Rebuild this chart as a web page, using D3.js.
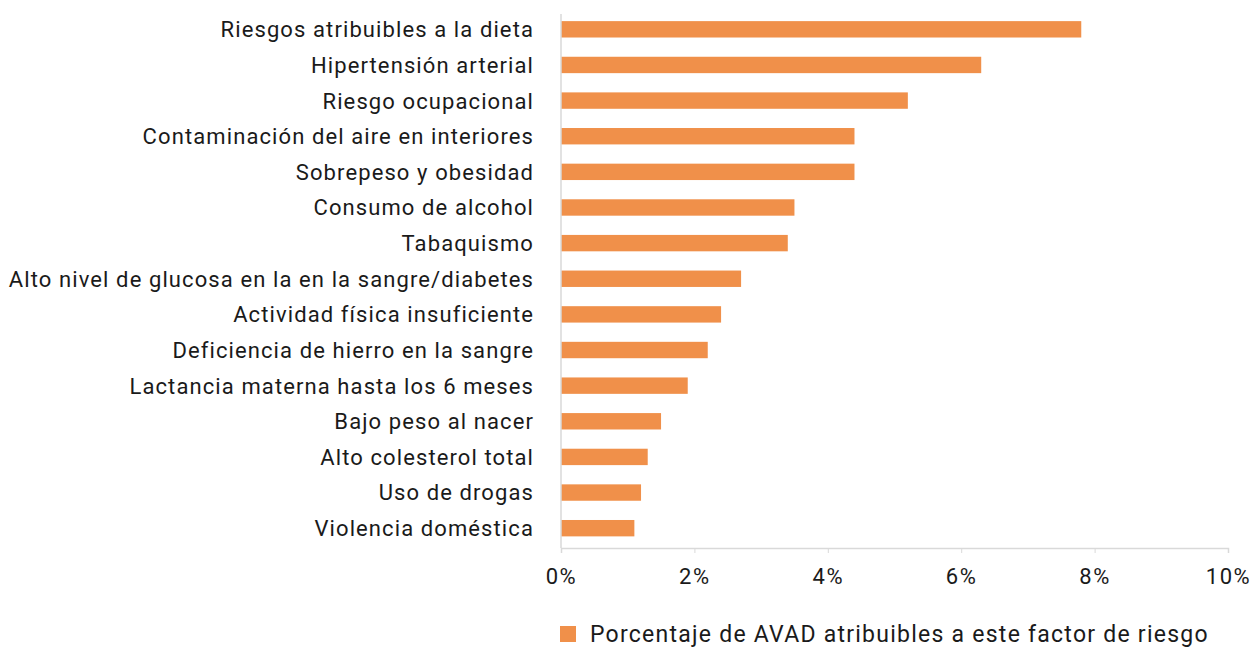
<!DOCTYPE html>
<html><head><meta charset="utf-8">
<script src="https://cdn.jsdelivr.net/npm/d3@7"></script>
<style>body{margin:0;background:#fff}svg{display:block}text{font-family:Roboto,sans-serif;fill:#1a1a1a}</style>
</head><body><svg id="c" width="1255" height="648"></svg>
<script>
const categories = ["Riesgos atribuibles a la dieta","Hipertensión arterial","Riesgo ocupacional","Contaminación del aire en interiores","Sobrepeso y obesidad","Consumo de alcohol","Tabaquismo","Alto nivel de glucosa en la en la sangre/diabetes","Actividad física insuficiente","Deficiencia de hierro en la sangre","Lactancia materna hasta los 6 meses","Bajo peso al nacer","Alto colesterol total","Uso de drogas","Violencia doméstica"];
const values = [7.8,6.3,5.2,4.4,4.4,3.5,3.4,2.7,2.4,2.2,1.9,1.5,1.3,1.2,1.1];
const xTicks = [0,2,4,6,8,10];
const seriesName = "Porcentaje de AVAD atribuibles a este factor de riesgo";

const svg = d3.select("#c");
const color = "#F0904A";
const x = d3.scaleLinear().domain([0,10]).range([561,1228]);
const y = d3.scaleBand().domain(categories).range([11.5,546]).paddingInner(0.54).paddingOuter(0.27);

svg.selectAll("rect.bar").data(values).join("rect").attr("class","bar")
  .attr("x", x(0)).attr("y",(d,i)=>y(categories[i]))
  .attr("width", d=>x(d)-x(0)).attr("height", y.bandwidth()).attr("fill", color);

svg.append("line").attr("x1",x(0)).attr("x2",x(0)).attr("y1",14).attr("y2",548).attr("stroke","#d9d9d9").attr("stroke-width",1.5);

svg.selectAll("text.cat").data(categories).join("text").attr("class","cat")
  .attr("x",534).attr("y",d=>y(d)+y.bandwidth()/2).attr("dy","0.36em")
  .attr("text-anchor","end").attr("font-size",22).attr("letter-spacing",1.1).text(d=>d);

const xa = svg.append("g").attr("transform","translate(0,548)")
  .call(d3.axisBottom(x).tickValues(xTicks).tickSize(5).tickFormat(d=>d+"%"));
xa.select(".domain").attr("stroke","#d9d9d9").attr("stroke-width",1.5);
xa.selectAll(".tick line").attr("stroke","#d9d9d9");
xa.selectAll(".tick text").attr("font-size",22).attr("font-family","Roboto").attr("fill","#1a1a1a").attr("y",20).attr("letter-spacing",1.6);

svg.append("rect").attr("x",560).attr("y",626).attr("width",16).attr("height",16).attr("fill",color);
svg.append("text").attr("x",590).attr("y",634).attr("dy","0.36em").attr("font-size",23).attr("letter-spacing",1.25).text(seriesName);
</script></body></html>
